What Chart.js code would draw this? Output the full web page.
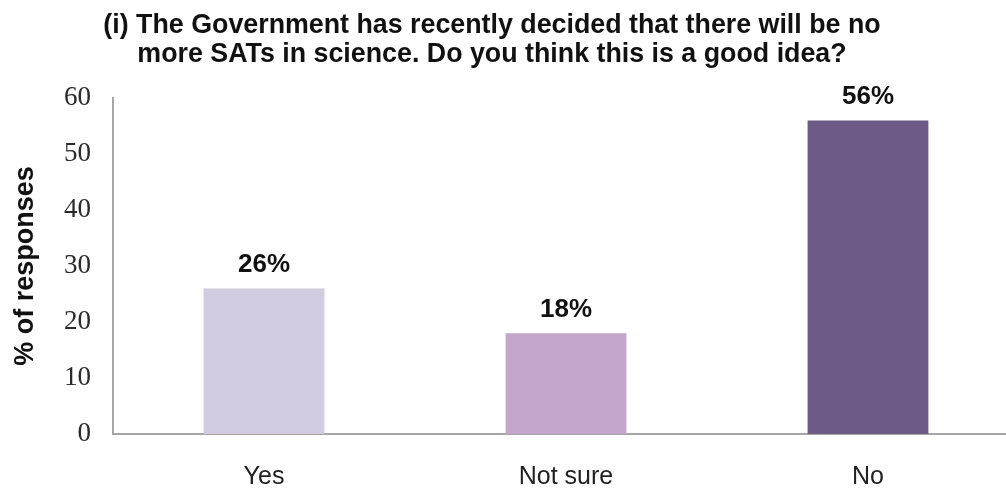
<!DOCTYPE html>
<html>
<head>
<meta charset="utf-8">
<script src="https://cdn.jsdelivr.net/npm/chart.js@4"></script>
<style>
  html, body { margin: 0; padding: 0; background: #fff; overflow: hidden; }
  #wrap { width: 1019px; height: 488px; }
</style>
</head>
<body>
<div id="wrap"><canvas id="chartRespuestas"></canvas></div>
<script>
const categorias = ['Yes', 'Not sure', 'No'];
const porcentajes = [26, 18, 56];
const colores = ['#d3cbe0', '#c4a6cc', '#6e5a87'];
const tituloLineas = [
    '(i) The Government has recently decided that there will be no',
    'more SATs in science. Do you think this is a good idea?'
];

// titulo en dos lineas, centrado sobre el area visible
const tituloGrafica = {
    id: 'tituloGrafica',
    afterDraw(chart) {
        const ctx = chart.ctx;
        ctx.save();
        ctx.font = 'bold 26.8px "Liberation Sans", Arial, sans-serif';
        ctx.fillStyle = '#111';
        ctx.textAlign = 'center';
        ctx.textBaseline = 'alphabetic';
        tituloLineas.forEach((linea, i) => {
            ctx.fillText(linea, 492, 33 + i * 29);
        });
        ctx.restore();
    }
};

// etiquetas encima de cada barra
const etiquetasBarras = {
    id: 'etiquetasBarras',
    afterDatasetsDraw(chart) {
        const ctx = chart.ctx;
        const meta = chart.getDatasetMeta(0);
        ctx.save();
        ctx.font = 'bold 26px "Liberation Sans", Arial, sans-serif';
        ctx.fillStyle = '#111';
        ctx.textAlign = 'center';
        ctx.textBaseline = 'alphabetic';
        meta.data.forEach((bar, i) => {
            ctx.fillText(porcentajes[i] + '%', bar.x, bar.y - 16);
        });
        ctx.restore();
    }
};

const ctx = document.getElementById('chartRespuestas').getContext('2d');

const chartRespuestas = new Chart(ctx, {
    type: 'bar',
    data: {
        labels: categorias,
        datasets: [{
            data: porcentajes,
            backgroundColor: colores,
            borderWidth: 0,
            barPercentage: 0.4,
            categoryPercentage: 1
        }]
    },
    options: {
        responsive: true,
        maintainAspectRatio: false,
        animation: false,
        layout: { padding: { top: 98, right: 0, left: 0, bottom: 0 } },
        plugins: {
            legend: { display: false },
            tooltip: { enabled: false },
            title: { display: false }
        },
        scales: {
            x: {
                grid: { display: false, drawTicks: false },
                border: { color: '#a6a6a6', width: 2 },
                afterFit: (scale) => { scale.height = 54; },
                ticks: {
                    color: '#222',
                    padding: 31,
                    font: { family: '"Liberation Sans", Arial, sans-serif', size: 25, lineHeight: 1 }
                }
            },
            y: {
                min: 0,
                max: 60,
                grid: { display: false, drawTicks: false },
                border: { color: '#a6a6a6', width: 2 },
                afterFit: (scale) => { scale.width = 113; },
                ticks: {
                    stepSize: 10,
                    color: '#2a2a2a',
                    padding: 22,
                    font: { family: '"Liberation Serif", "DejaVu Serif", serif', size: 27 }
                },
                title: {
                    display: true,
                    text: '% of responses',
                    color: '#111',
                    padding: { top: 9, bottom: 0 },
                    font: { family: '"Liberation Sans", Arial, sans-serif', size: 27, weight: 'bold' }
                }
            }
        }
    },
    plugins: [etiquetasBarras, tituloGrafica]
});
</script>
</body>
</html>
